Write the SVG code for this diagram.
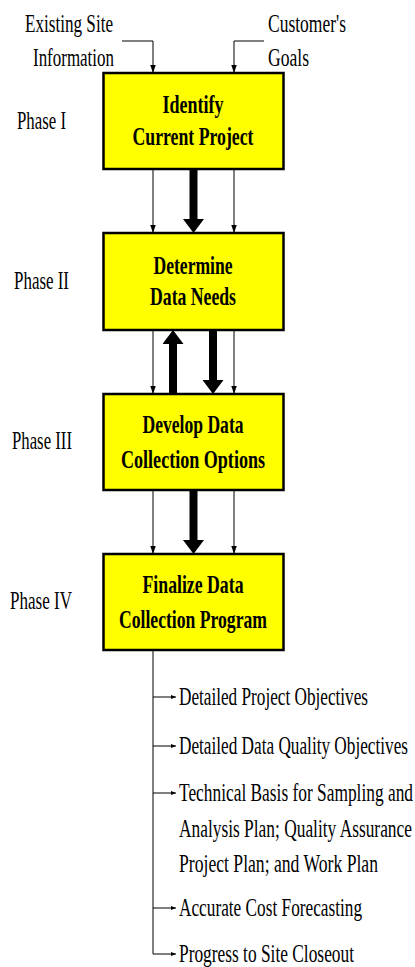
<svg xmlns="http://www.w3.org/2000/svg" width="415" height="967" viewBox="0 0 415 967">
<style>
text{font-family:"Liberation Serif","Times New Roman",serif;font-size:25px;fill:#000}
.b{font-weight:bold;text-anchor:middle}
.box{fill:#ffff00;stroke:#000;stroke-width:2.5}
.thin{fill:none;stroke:#000;stroke-width:1}
.thick{fill:none;stroke:#000;stroke-width:8}
</style>
<defs>
<marker id="ah" markerUnits="userSpaceOnUse" markerWidth="9" markerHeight="6" refX="8" refY="2.75" orient="auto"><path d="M0,0 L8,2.75 L0,5.5 z" fill="#000"/></marker>
<marker id="as" markerUnits="userSpaceOnUse" markerWidth="6" markerHeight="5" refX="5" refY="2" orient="auto"><path d="M0,0 L5,2 L0,4 z" fill="#000"/></marker>
<marker id="ak" markerUnits="userSpaceOnUse" markerWidth="15" markerHeight="22" refX="0" refY="10.5" orient="auto"><path d="M0,0 L14,10.5 L0,21 z" fill="#000"/></marker>
</defs>

<g id="inputs">
<text transform="translate(25,32) scale(0.685,1)" textLength="128.5" lengthAdjust="spacingAndGlyphs">Existing Site</text>
<text transform="translate(33,66) scale(0.685,1)" textLength="118.2" lengthAdjust="spacingAndGlyphs">Information</text>
<text transform="translate(268,32) scale(0.685,1)" textLength="113.9" lengthAdjust="spacingAndGlyphs">Customer's</text>
<text transform="translate(268,66) scale(0.685,1)" textLength="59.9" lengthAdjust="spacingAndGlyphs">Goals</text>
</g>

<g id="phases">
<text transform="translate(17,129) scale(0.685,1)" textLength="71.5" lengthAdjust="spacingAndGlyphs">Phase I</text>
<text transform="translate(14,289) scale(0.685,1)" textLength="80.3" lengthAdjust="spacingAndGlyphs">Phase II</text>
<text transform="translate(12,449) scale(0.685,1)" textLength="87.6" lengthAdjust="spacingAndGlyphs">Phase III</text>
<text transform="translate(10,609) scale(0.685,1)" textLength="90.5" lengthAdjust="spacingAndGlyphs">Phase IV</text>
</g>

<g id="connectors">
<polyline class="thin" points="122,41 153,41 153,73" marker-end="url(#ah)"/>
<polyline class="thin" points="264,41 234,41 234,73" marker-end="url(#ah)"/>
<line class="thin" x1="153" y1="169" x2="153" y2="233" marker-end="url(#ah)"/>
<line class="thin" x1="234" y1="169" x2="234" y2="233" marker-end="url(#ah)"/>
<line class="thick" x1="193.5" y1="169" x2="193.5" y2="219" marker-end="url(#ak)"/>
<line class="thin" x1="153" y1="330" x2="153" y2="394" marker-end="url(#ah)"/>
<line class="thin" x1="234" y1="330" x2="234" y2="394" marker-end="url(#ah)"/>
<line class="thick" x1="213" y1="330" x2="213" y2="380" marker-end="url(#ak)"/>
<line class="thick" x1="173" y1="394" x2="173" y2="344" marker-end="url(#ak)"/>
<line class="thin" x1="153" y1="490" x2="153" y2="554" marker-end="url(#ah)"/>
<line class="thin" x1="234" y1="490" x2="234" y2="554" marker-end="url(#ah)"/>
<line class="thick" x1="193.5" y1="490" x2="193.5" y2="540" marker-end="url(#ak)"/>
<polyline class="thin" points="153,650 153,954 176,954" marker-end="url(#as)"/>
<line class="thin" x1="153" y1="697" x2="176" y2="697" marker-end="url(#as)"/>
<line class="thin" x1="153" y1="746" x2="176" y2="746" marker-end="url(#as)"/>
<line class="thin" x1="153" y1="793" x2="176" y2="793" marker-end="url(#as)"/>
<line class="thin" x1="153" y1="908" x2="176" y2="908" marker-end="url(#as)"/>
</g>

<g id="node1">
<rect class="box" x="103.5" y="73" width="180" height="96"/>
<text class="b" transform="translate(193,113) scale(0.71,1)" textLength="85.9" lengthAdjust="spacingAndGlyphs">Identify</text>
<text class="b" transform="translate(193,145) scale(0.71,1)" textLength="170.4" lengthAdjust="spacingAndGlyphs">Current Project</text>
</g>
<g id="node2">
<rect class="box" x="103.5" y="233" width="180" height="97"/>
<text class="b" transform="translate(193,274) scale(0.71,1)" textLength="111.3" lengthAdjust="spacingAndGlyphs">Determine</text>
<text class="b" transform="translate(193,305) scale(0.71,1)" textLength="121.1" lengthAdjust="spacingAndGlyphs">Data Needs</text>
</g>
<g id="node3">
<rect class="box" x="103.5" y="394" width="180" height="96"/>
<text class="b" transform="translate(193,433) scale(0.71,1)" textLength="142.3" lengthAdjust="spacingAndGlyphs">Develop Data</text>
<text class="b" transform="translate(193,468) scale(0.71,1)" textLength="202.8" lengthAdjust="spacingAndGlyphs">Collection Options</text>
</g>
<g id="node4">
<rect class="box" x="103.5" y="554" width="180" height="96"/>
<text class="b" transform="translate(193,593) scale(0.71,1)" textLength="142.3" lengthAdjust="spacingAndGlyphs">Finalize Data</text>
<text class="b" transform="translate(193,628) scale(0.71,1)" textLength="208.5" lengthAdjust="spacingAndGlyphs">Collection Program</text>
</g>

<g id="outputs">
<text transform="translate(179,705) scale(0.685,1)" textLength="275.9" lengthAdjust="spacingAndGlyphs">Detailed Project Objectives</text>
<text transform="translate(179,754) scale(0.685,1)" textLength="334.3" lengthAdjust="spacingAndGlyphs">Detailed Data Quality Objectives</text>
<text transform="translate(179,801) scale(0.685,1)" textLength="341.6" lengthAdjust="spacingAndGlyphs">Technical Basis for Sampling and</text>
<text transform="translate(179,837) scale(0.685,1)" textLength="340.1" lengthAdjust="spacingAndGlyphs">Analysis Plan; Quality Assurance</text>
<text transform="translate(179,872) scale(0.685,1)" textLength="290.5" lengthAdjust="spacingAndGlyphs">Project Plan; and Work Plan</text>
<text transform="translate(179,916) scale(0.685,1)" textLength="267.2" lengthAdjust="spacingAndGlyphs">Accurate Cost Forecasting</text>
<text transform="translate(179,962) scale(0.685,1)" textLength="255.5" lengthAdjust="spacingAndGlyphs">Progress to Site Closeout</text>
</g>
</svg>
